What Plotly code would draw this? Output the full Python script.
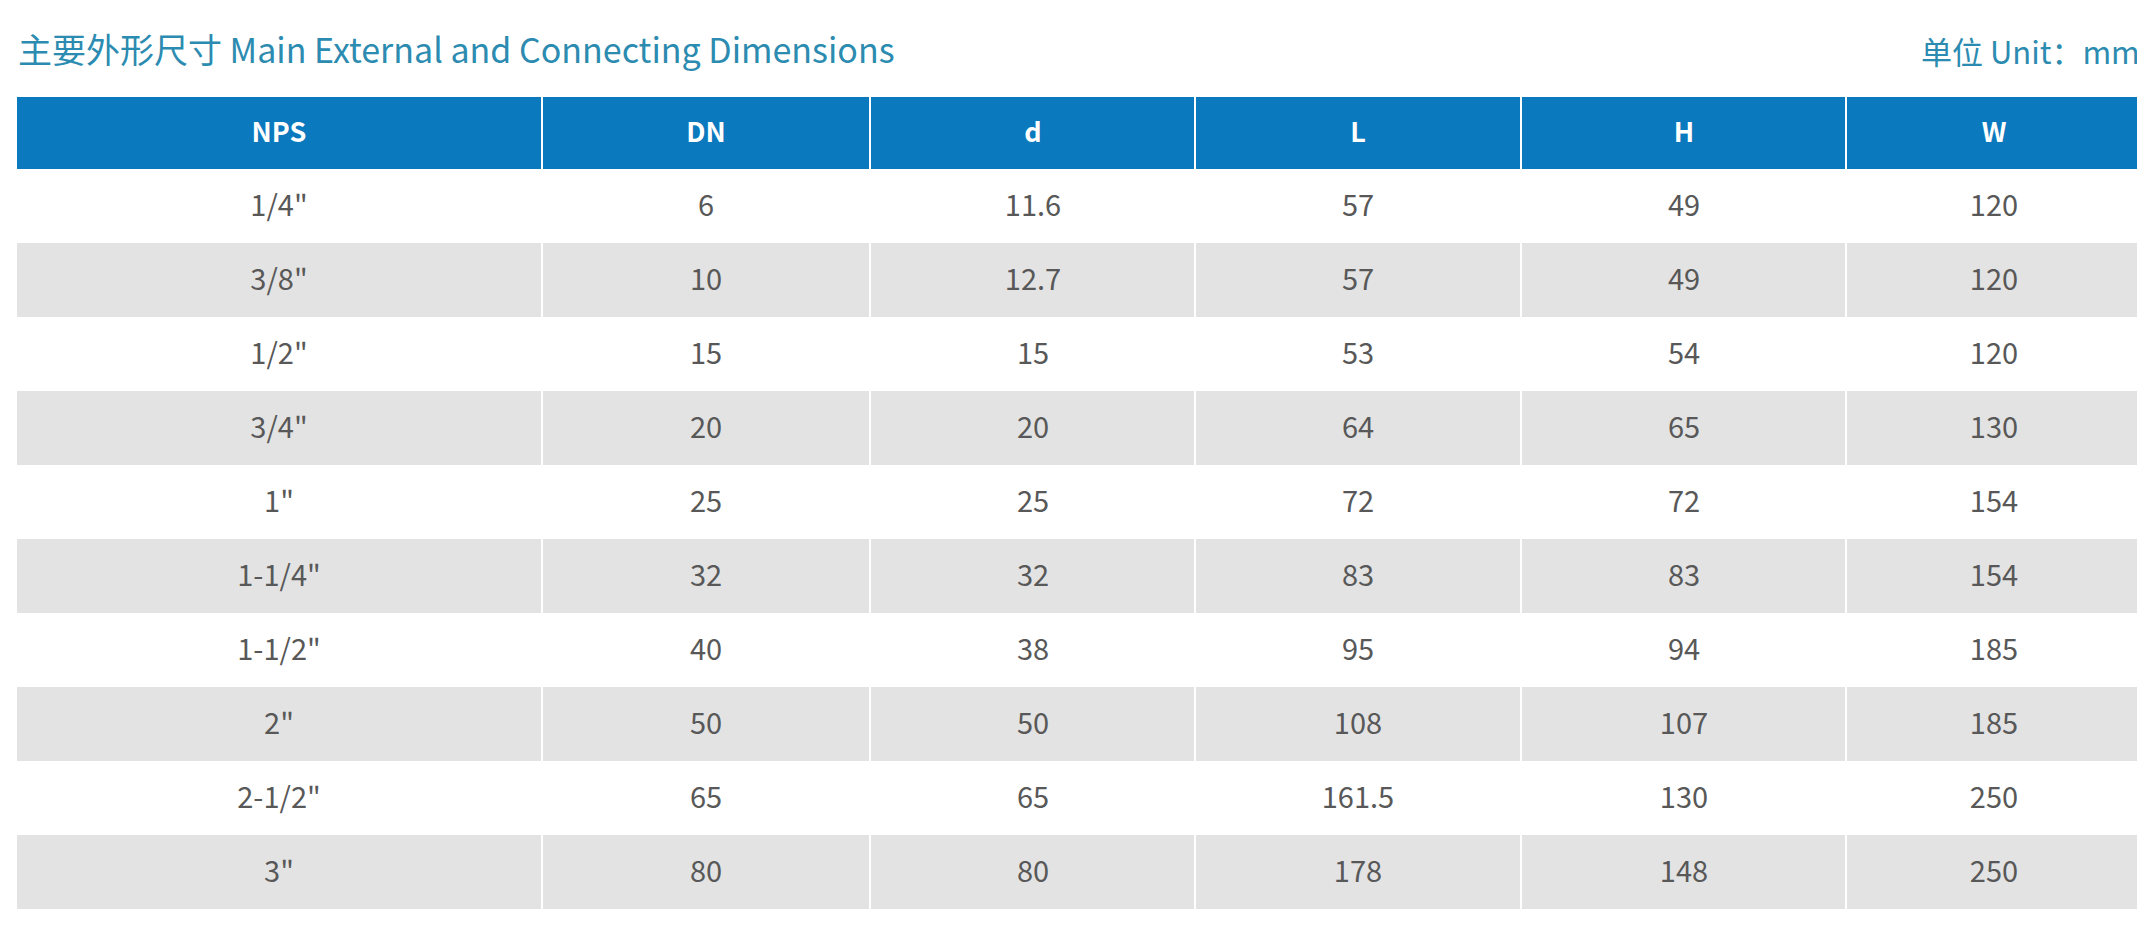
import plotly.graph_objects as go

headers = ["NPS", "DN", "d", "L", "H", "W"]
nps = ['1/4"', '3/8"', '1/2"', '3/4"', '1"', '1-1/4"', '1-1/2"', '2"', '2-1/2"', '3"']
dn = ["6", "10", "15", "20", "25", "32", "40", "50", "65", "80"]
d = ["11.6", "12.7", "15", "20", "25", "32", "38", "50", "65", "80"]
L = ["57", "57", "53", "64", "72", "83", "95", "108", "161.5", "178"]
H = ["49", "49", "54", "65", "72", "83", "94", "107", "130", "148"]
W = ["120", "120", "120", "130", "154", "154", "185", "185", "250", "250"]

Wd, Ht = 2145, 925
col_w = [526, 328, 325, 326, 325, 296]
hh, rh = 72, 74
ml, mr, mt = 8, 11, 89
n = len(nps)
total_h = hh + rh * n
mb = Ht - mt - total_h

xe = [0]
for w in col_w:
    xe.append(xe[-1] + w)
ye_body = [hh + rh * i for i in range(n + 1)]

cols = [nps, dn, d, L, H, W]
body_text = [[cols[c][r] for c in range(6)] for r in range(n)]
body_z = [[r % 2] * 6 for r in range(n)]

fig = go.Figure()
fig.add_trace(go.Heatmap(
    x=xe, y=ye_body, z=body_z, text=body_text, texttemplate="%{text}",
    colorscale=[[0, "#ffffff"], [1, "#e3e3e3"]], zmin=0, zmax=1, showscale=False,
    xgap=2, ygap=0, hoverinfo="skip",
    textfont=dict(family="Noto Sans CJK SC", size=29, color="#585858")))
fig.add_trace(go.Heatmap(
    x=xe, y=[0, hh], z=[[1] * 6], text=[[f"<b>{h}</b>" for h in headers]],
    texttemplate="%{text}", colorscale=[[0, "#0b79be"], [1, "#0b79be"]],
    showscale=False, xgap=2, hoverinfo="skip",
    textfont=dict(family="Noto Sans CJK SC", size=27, color="white")))

def py(ypix):
    return (Ht - mb - ypix) / (Ht - mt - mb)

fig.add_annotation(x=0, y=py(40), xref="paper", yref="paper", xanchor="left",
                   yanchor="middle", showarrow=False,
                   text="主要外形尺寸 Main External and Connecting Dimensions",
                   font=dict(family="Noto Sans CJK SC", size=34, color="#2c8bb0"))
fig.add_annotation(x=1, y=py(42), xref="paper", yref="paper", xanchor="right",
                   yanchor="middle", showarrow=False, text="单位 Unit：mm",
                   font=dict(family="Noto Sans CJK SC", size=31, color="#2c8bb0"))
fig.update_xaxes(range=[0, xe[-1]], visible=False, fixedrange=True)
fig.update_yaxes(range=[total_h, 0], visible=False, fixedrange=True)
fig.update_layout(width=Wd, height=Ht, margin=dict(l=ml, r=mr, t=mt, b=mb),
                  paper_bgcolor="white", plot_bgcolor="white")
fig.write_html("out.html")
